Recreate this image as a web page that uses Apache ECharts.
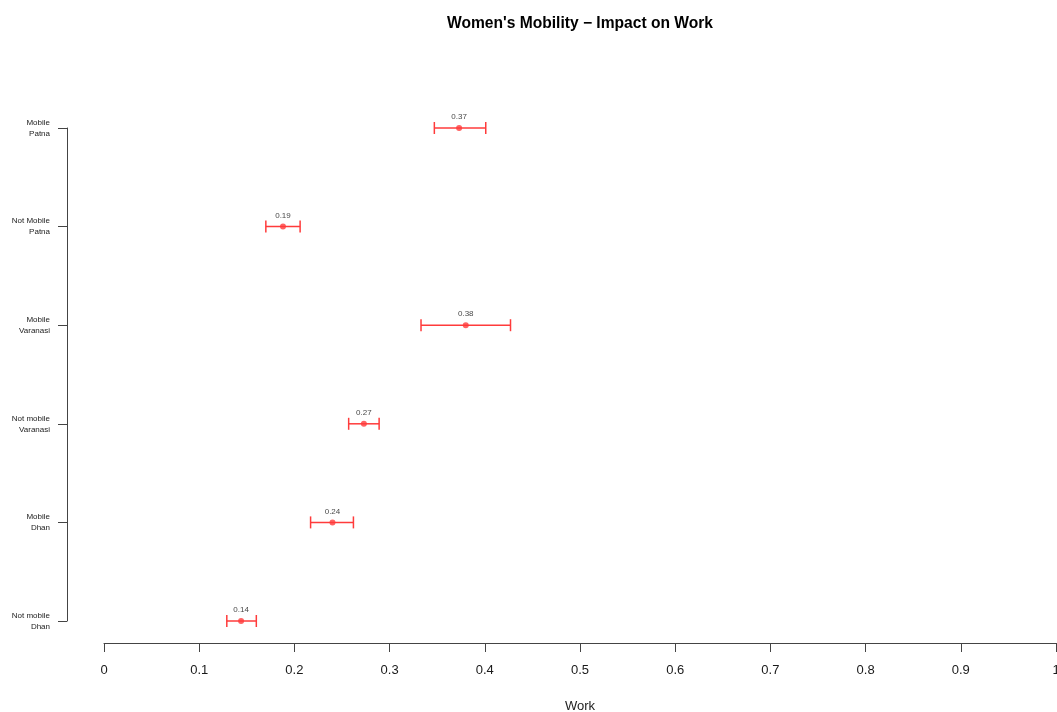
<!DOCTYPE html>
<html>
<head>
<meta charset="utf-8">
<script src="https://cdn.jsdelivr.net/npm/echarts@6/dist/echarts.min.js"></script>
<style>html,body{margin:0;padding:0;background:#fff;}#c{width:1057px;height:712px;}</style>
</head>
<body>
<div id="c"></div>
<script>
var categories = ['Not mobile\nDhan', 'Mobile\nDhan', 'Not mobile\nVaranasi', 'Mobile\nVaranasi', 'Not Mobile\nPatna', 'Mobile\nPatna'];
var means = [0.144, 0.240, 0.273, 0.380, 0.188, 0.373];
var lower = [0.129, 0.217, 0.257, 0.333, 0.170, 0.347];
var upper = [0.160, 0.262, 0.289, 0.427, 0.206, 0.401];
var xTicks = [0, 0.1, 0.2, 0.3, 0.4, 0.5, 0.6, 0.7, 0.8, 0.9, 1];

var red = '#ff3b3b';
var chart = echarts.init(document.getElementById('c'));
var errData = categories.map(function (c, i) { return [i, lower[i], upper[i]]; });
var ptData = categories.map(function (c, i) { return [means[i], c]; });

chart.setOption({
  animation: false,
  backgroundColor: '#fff',
  title: {
    text: "Women's Mobility \u2212 Impact on Work",
    left: 575, top: 11,
    textAlign: 'center',
    textStyle: { fontFamily: 'Liberation Sans, Arial', fontSize: 15.6, fontWeight: 'bold', color: '#000' }
  },
  grid: { left: 104, right: 1, top: 128, bottom: 91, outerBoundsMode: 'none', containLabel: false },
  xAxis: {
    type: 'value', min: 0, max: 1, interval: 0.1,
    offset: 22,
    name: 'Work', nameLocation: 'middle', nameGap: 57,
    nameTextStyle: { fontFamily: 'Liberation Sans, Arial', fontSize: 13, color: '#222' },
    axisLine: { show: true, onZero: false, lineStyle: { color: '#444', width: 1 } },
    axisTick: { show: true, length: 9, lineStyle: { color: '#444' } },
    splitLine: { show: false },
    axisLabel: {
      margin: 21, fontFamily: 'Liberation Sans, Arial', fontSize: 13, color: '#1a1a1a',
      showMaxLabel: true, showMinLabel: true, hideOverlap: false,
      formatter: function (v) { return v === 0 ? '0' : (v === 1 ? '1' : v.toFixed(1)); }
    }
  },
  yAxis: {
    type: 'category', data: categories, boundaryGap: false,
    offset: 37,
    axisLine: { show: true, onZero: false, lineStyle: { color: '#444', width: 1 } },
    axisTick: { show: true, length: 9, alignWithLabel: true, lineStyle: { color: '#444' } },
    splitLine: { show: false },
    axisLabel: {
      margin: 17, fontFamily: 'Liberation Sans, Arial', fontSize: 8, lineHeight: 11, color: '#222', align: 'right'
    }
  },
  series: [
    {
      type: 'custom',
      data: errData,
      renderItem: function (params, api) {
        var y = api.value(0);
        var p1 = api.coord([api.value(1), y]);
        var p2 = api.coord([api.value(2), y]);
        var h = 6;
        var st = { stroke: red, lineWidth: 1.5 };
        return {
          type: 'group',
          children: [
            { type: 'line', shape: { x1: p1[0], y1: p1[1], x2: p2[0], y2: p2[1] }, style: st },
            { type: 'line', shape: { x1: p1[0], y1: p1[1] - h, x2: p1[0], y2: p1[1] + h }, style: st },
            { type: 'line', shape: { x1: p2[0], y1: p2[1] - h, x2: p2[0], y2: p2[1] + h }, style: st }
          ]
        };
      },
      encode: { x: [1, 2], y: 0 },
      z: 2
    },
    {
      type: 'scatter',
      data: ptData,
      symbol: 'circle', symbolSize: 6,
      itemStyle: { color: red },
      label: {
        show: true, position: 'top', distance: 4,
        fontFamily: 'Liberation Sans, Arial', fontSize: 8, color: '#111',
        formatter: function (p) { return p.value[0].toFixed(2); }
      },
      z: 3
    }
  ]
});
</script>
</body>
</html>
